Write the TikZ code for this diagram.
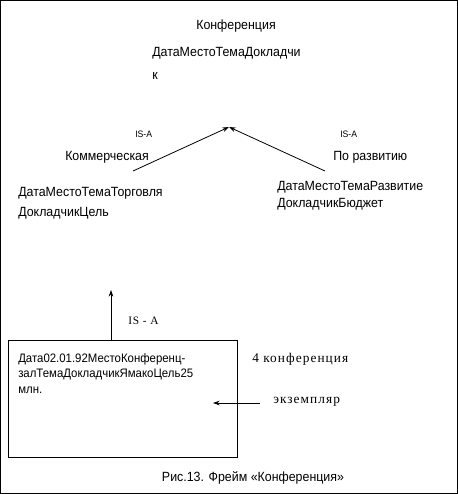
\documentclass[tikz,border=0pt]{standalone}
\usepackage{fontspec}
\setmainfont{Liberation Sans}[FakeStretch=0.93]
\newfontfamily\rmru{Liberation Serif}[LetterSpace=8]
\usetikzlibrary{arrows.meta,positioning}

\begin{document}
\begin{tikzpicture}[
  x=0.75pt, y=-0.75pt,
  font=\fontsize{10}{12}\selectfont,
  >={Stealth[length=5pt,width=3.5pt]},
  txt/.style={anchor=base west, inner sep=0pt},
  small/.style={txt, font=\fontsize{7}{8}\selectfont},
  boxtxt/.style={txt, font=\fontsize{9.2}{11}\selectfont},
  serif/.style={txt, font=\fontsize{10}{12}\rmru},
  link/.style={->, line width=0.6pt},
]
  % frame
  \draw[line width=0.9pt] (0.6,0.6) rectangle (457.4,493.4);

  % top frame
  \node[txt, anchor=base] (conf) at (236,29) {Конференция};
  \node[txt] (slots) at (152,56) {ДатаМестоТемаДокладчи};
  \node[txt] (slotsk) at (152,79) {к};

  % subclasses
  \node[small] (isaL) at (135,137) {IS-A};
  \node[small] (isaR) at (340,137) {IS-A};
  \node[txt] (kom) at (65,160) {Коммерческая};
  \node[txt] (dev) at (333,160) {По развитию};
  \node[txt] (komA) at (18,196) {ДатаМестоТемаТорговля};
  \node[txt] (komB) at (18,216) {ДокладчикЦель};
  \node[txt] (devA) at (277,190) {ДатаМестоТемаРазвитие};
  \node[txt] (devB) at (277,207) {ДокладчикБюджет};

  \coordinate (apex) at (229,127);
  \coordinate (komfoot) at (133,171);
  \coordinate (devfoot) at (325,171);
  \draw[link] (komfoot) -- (apex);
  \draw[link] (devfoot) -- (apex);

  % instance
  \node[draw, line width=0.6pt, anchor=north west, minimum width=171.75pt,
        minimum height=87.75pt, inner sep=0pt] (inst) at (8,340) {};
  \node[boxtxt] (instA) at (18,362) {Дата02.01.92МестоКонференц-};
  \node[boxtxt] (instB) at (18,377) {залТемаДокладчикЯмакоЦель25};
  \node[boxtxt] (instC) at (18,393) {млн.};

  \coordinate (up) at (111,290);
  \coordinate (upfoot) at (111,340);
  \draw[link] (upfoot) -- (up);
  \node[serif, font=\fontsize{8.5}{10}\rmru] (isaI) at (128,324) {IS - A};

  \node[serif] (four) at (252,362) {4 конференция};
  \node[serif] (ex) at (273,403) {экземпляр};
  \coordinate (exfoot) at (260,403);
  \coordinate (extip) at (213,403);
  \draw[link] (exfoot) -- (extip);

  % caption
  \node[txt, anchor=base] (cap) at (253,481) {Рис.13. Фрейм «Конференция»};
\end{tikzpicture}
\end{document}
